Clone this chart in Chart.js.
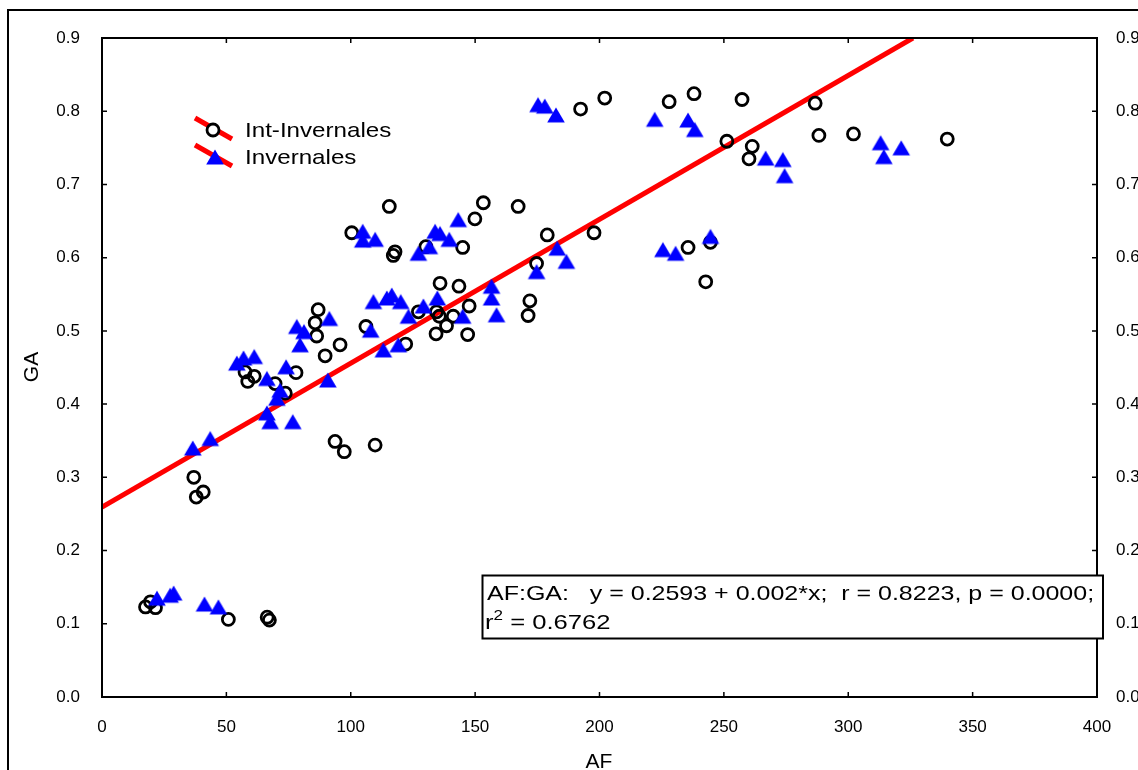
<!DOCTYPE html>
<html lang="es">
<head>
    <meta charset="UTF-8">
    <title>AF vs GA</title>
    <style>
        html, body { margin: 0; padding: 0; background: #fff; }
        #wrap { width: 1138px; height: 770px; position: relative; }
    </style>
    <script src="https://cdn.jsdelivr.net/npm/chart.js"></script>
</head>
<body>
    <div id="wrap"><canvas id="chart"></canvas></div>

    <script>
        // Int-Invernales (open circles)
        const intAF = [17.5, 21.5, 19.5, 50.8, 66.4, 67.3, 36.9, 37.9, 40.7, 57.5, 58.6, 61.2, 69.6, 73.7, 78.0,
            86.9, 85.7, 86.3, 89.7, 95.7, 100.4, 93.7, 97.4, 109.8, 115.5, 153.3, 167.3, 149.9, 179.0, 197.8,
            117.8, 117.1, 130.2, 145.0, 174.7, 135.9, 143.5, 172.0, 171.3, 147.6, 127.2, 134.5, 135.6, 141.2,
            138.5, 134.3, 147.0, 106.1, 122.1, 192.4, 202.1, 228.0, 238.0, 257.3, 251.2, 261.4, 260.1, 235.6,
            244.6, 242.7, 286.7, 288.2, 302.1, 339.8];
        const intGA = [0.123, 0.122, 0.130, 0.106, 0.109, 0.105, 0.300, 0.273, 0.280, 0.444, 0.431, 0.438, 0.428, 0.415, 0.443,
            0.529, 0.511, 0.493, 0.466, 0.481, 0.634, 0.349, 0.335, 0.344, 0.670, 0.675, 0.670, 0.653, 0.631, 0.634,
            0.608, 0.603, 0.615, 0.614, 0.592, 0.565, 0.561, 0.541, 0.521, 0.534, 0.526, 0.526, 0.520, 0.520,
            0.507, 0.496, 0.495, 0.506, 0.482, 0.803, 0.818, 0.813, 0.824, 0.816, 0.759, 0.752, 0.735, 0.614,
            0.621, 0.567, 0.811, 0.767, 0.769, 0.762];

        // Invernales (blue triangles)
        const invAF = [22.1, 27.4, 28.8, 41.2, 46.8, 36.5, 43.5, 54.2, 56.9, 61.2, 66.3, 74.0, 71.6, 70.3, 66.3,
            67.6, 76.7, 78.3, 81.2, 79.6, 91.4, 90.8, 104.8, 104.8, 109.8, 133.9, 135.9, 143.2, 139.6, 131.6,
            127.2, 109.1, 114.5, 116.5, 120.1, 123.2, 129.2, 134.8, 108.0, 113.1, 119.1, 145.0, 156.6, 156.6,
            158.6, 174.7, 183.0, 186.7, 175.3, 178.0, 182.5, 222.2, 235.6, 238.3, 225.5, 230.6, 244.6, 266.8,
            273.7, 274.4, 313.0, 314.3, 321.3];
        const invGA = [0.135, 0.139, 0.142, 0.127, 0.123, 0.340, 0.353, 0.456, 0.463, 0.465, 0.435, 0.451, 0.419, 0.408, 0.388,
            0.376, 0.376, 0.506, 0.499, 0.481, 0.517, 0.433, 0.636, 0.624, 0.625, 0.636, 0.633, 0.652, 0.625, 0.615,
            0.606, 0.540, 0.545, 0.549, 0.540, 0.520, 0.534, 0.545, 0.501, 0.474, 0.481, 0.520, 0.561, 0.545,
            0.522, 0.581, 0.613, 0.595, 0.809, 0.807, 0.795, 0.789, 0.788, 0.775, 0.611, 0.606, 0.629, 0.736,
            0.734, 0.712, 0.757, 0.738, 0.750];

        // regression line, read where it enters and leaves the plot
        const fitAF = [0, 326];
        const fitGA = [0.2593, 0.9];

        const legendLabels = ['Int-Invernales', 'Invernales'];
        const statText = 'AF:GA:   y = 0.2593 + 0.002*x;  r = 0.8223, p = 0.0000;';
        const r2Text = ' = 0.6762';

        const FONT = "'Liberation Sans', Arial, sans-serif";
        const tickFont = { family: FONT, size: 17 };

        const toPoints = (xs, ys) => xs.map((x, i) => ({ x: x, y: ys[i] }));

        // filled triangle marker, centred on its mid-height like the original
        const triMarker = document.createElement('canvas');
        triMarker.width = 20;
        triMarker.height = 18;
        (function () {
            const c = triMarker.getContext('2d');
            c.fillStyle = '#0000ff';
            c.beginPath();
            c.moveTo(10, 1.5);
            c.lineTo(18.8, 16.5);
            c.lineTo(1.2, 16.5);
            c.closePath();
            c.fill();
        })();

        // frame, inward ticks, axis titles, legend and stats box
        const decorations = {
            id: 'decorations',
            afterDraw(chart) {
                const ctx = chart.ctx;
                const a = chart.chartArea;
                ctx.save();
                ctx.strokeStyle = '#000';
                ctx.fillStyle = '#000';

                // outer frame
                ctx.lineWidth = 2;
                ctx.strokeRect(8, 10, 1300, 1000);

                // plot frame
                ctx.strokeRect(a.left, a.top, a.right - a.left, a.bottom - a.top);

                // inward ticks
                ctx.lineWidth = 1.5;
                ctx.beginPath();
                chart.scales.x.ticks.forEach(t => {
                    const px = chart.scales.x.getPixelForValue(t.value);
                    ctx.moveTo(px, a.bottom); ctx.lineTo(px, a.bottom - 5);
                    ctx.moveTo(px, a.top); ctx.lineTo(px, a.top + 5);
                });
                chart.scales.y.ticks.forEach(t => {
                    const py = chart.scales.y.getPixelForValue(t.value);
                    ctx.moveTo(a.left, py); ctx.lineTo(a.left + 5, py);
                    ctx.moveTo(a.right, py); ctx.lineTo(a.right - 5, py);
                });
                ctx.stroke();

                // axis titles
                ctx.font = '21px ' + FONT;
                ctx.textAlign = 'center';
                ctx.textBaseline = 'alphabetic';
                ctx.fillText('AF', 599, 768);
                ctx.save();
                ctx.translate(32, 367);
                ctx.rotate(-Math.PI / 2);
                ctx.font = '21px ' + FONT;
                ctx.textBaseline = 'middle';
                ctx.fillText('GA', 0, 0);
                ctx.restore();

                // legend
                const rows = [130, 157];
                rows.forEach((ly, i) => {
                    ctx.strokeStyle = '#ff0000';
                    ctx.lineWidth = 5;
                    ctx.beginPath();
                    ctx.moveTo(195, ly - 12);
                    ctx.lineTo(232, ly + 9);
                    ctx.stroke();
                    if (i === 0) {
                        ctx.fillStyle = '#fff';
                        ctx.strokeStyle = '#000';
                        ctx.lineWidth = 2.8;
                        ctx.beginPath();
                        ctx.arc(213, ly, 6, 0, Math.PI * 2);
                        ctx.fill();
                        ctx.stroke();
                    } else {
                        ctx.drawImage(triMarker, 215 - 10, ly - 9);
                    }
                    ctx.fillStyle = '#000';
                    ctx.save();
                    ctx.translate(245, ly + 1);
                    ctx.scale(1.15, 1);
                    ctx.font = '21px ' + FONT;
                    ctx.textAlign = 'left';
                    ctx.textBaseline = 'middle';
                    ctx.fillText(legendLabels[i], 0, 0);
                    ctx.restore();
                });

                // stats box
                ctx.fillStyle = '#fff';
                ctx.fillRect(482.5, 575.5, 620.5, 63);
                ctx.strokeStyle = '#000';
                ctx.lineWidth = 2;
                ctx.strokeRect(482.5, 575.5, 620.5, 63);
                ctx.fillStyle = '#000';
                ctx.textAlign = 'left';
                ctx.textBaseline = 'alphabetic';
                ctx.save();
                ctx.translate(487, 600);
                ctx.scale(1.19, 1);
                ctx.font = '21px ' + FONT;
                ctx.fillText(statText, 0, 0);
                ctx.restore();

                ctx.save();
                ctx.translate(485, 629);
                ctx.scale(1.22, 1);
                ctx.font = '21px ' + FONT;
                ctx.fillText('r', 0, 0);
                let w = ctx.measureText('r').width;
                ctx.font = '14px ' + FONT;
                ctx.fillText('2', w, -9);
                w += ctx.measureText('2').width;
                ctx.font = '21px ' + FONT;
                ctx.fillText(r2Text, w, 0);
                ctx.restore();

                ctx.restore();
            }
        };

        const ctx = document.getElementById('chart').getContext('2d');
        const chart = new Chart(ctx, {
            type: 'scatter',
            data: {
                datasets: [
                    {
                        label: legendLabels[1],
                        data: toPoints(invAF, invGA),
                        pointStyle: triMarker,
                        pointRadius: 9,
                        order: 1
                    },
                    {
                        label: legendLabels[0],
                        data: toPoints(intAF, intGA),
                        pointStyle: 'circle',
                        pointRadius: 6,
                        borderWidth: 2.8,
                        borderColor: '#000',
                        backgroundColor: 'rgba(0,0,0,0)',
                        order: 2
                    },
                    {
                        label: 'fit',
                        data: toPoints(fitAF, fitGA),
                        showLine: true,
                        borderColor: '#ff0000',
                        borderWidth: 5,
                        pointRadius: 0,
                        order: 3
                    }
                ]
            },
            options: {
                responsive: true,
                maintainAspectRatio: false,
                animation: false,
                layout: { padding: 0 },
                plugins: {
                    legend: { display: false },
                    tooltip: { enabled: false }
                },
                scales: {
                    x: {
                        type: 'linear', position: 'bottom', min: 0, max: 400,
                        ticks: { stepSize: 50, font: tickFont, color: '#000', padding: 12, maxRotation: 0 },
                        grid: { display: false }, border: { display: false },
                        afterFit(s) { s.height = 73; }
                    },
                    xTop: {
                        type: 'linear', position: 'top', min: 0, max: 400,
                        ticks: { display: false, stepSize: 50 },
                        grid: { display: false }, border: { display: false },
                        afterFit(s) { s.height = 38; }
                    },
                    y: {
                        type: 'linear', position: 'left', min: 0, max: 0.9,
                        ticks: { stepSize: 0.1, font: tickFont, color: '#000', padding: 14, callback: v => v.toFixed(1) },
                        grid: { display: false }, border: { display: false },
                        afterFit(s) { s.width = 102; }
                    },
                    yRight: {
                        type: 'linear', position: 'right', min: 0, max: 0.9,
                        ticks: { stepSize: 0.1, font: tickFont, color: '#000', padding: 11, callback: v => v.toFixed(1) },
                        grid: { display: false }, border: { display: false },
                        afterFit(s) { s.width = 41; }
                    }
                }
            },
            plugins: [decorations]
        });
    </script>
</body>
</html>
